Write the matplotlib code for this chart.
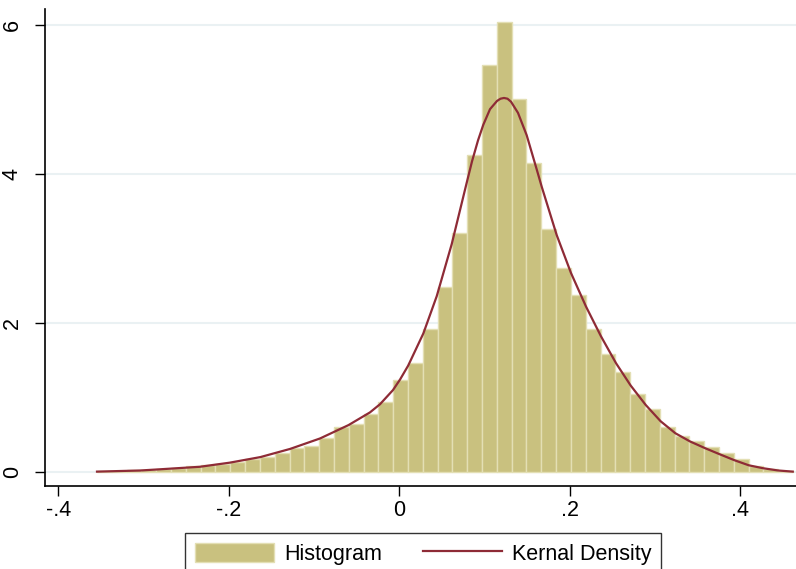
import numpy as np
import matplotlib
matplotlib.use("Agg")
from matplotlib import pyplot as plt
from matplotlib.patches import Patch
from matplotlib.lines import Line2D

# histogram: 47 equal bins from the data min to the data max
bin_start = -0.3546
bin_stop = 0.4618
hist_heights = [0.02, 0.02, 0.03, 0.03, 0.04, 0.05, 0.08, 0.10, 0.11, 0.13,
                0.17, 0.20, 0.25, 0.32, 0.35, 0.46, 0.61, 0.65, 0.78, 0.94,
                1.24, 1.46, 1.92, 2.48, 3.21, 4.25, 5.46, 6.04, 5.01, 4.15,
                3.26, 2.74, 2.38, 1.92, 1.58, 1.34, 1.05, 0.85, 0.60, 0.48,
                0.42, 0.34, 0.25, 0.17, 0.08, 0.04, 0.02]

# kernel density curve
kd_x = [-0.3546, -0.304, -0.281, -0.234, -0.199, -0.163, -0.128, -0.093,
        -0.0595, -0.0344, -0.0226, -0.0074, 0.0008, 0.0105, 0.0282, 0.0439,
        0.0615, 0.079, 0.0853, 0.0923, 0.0985, 0.1064, 0.1146, 0.1187,
        0.1228, 0.1269, 0.131, 0.1392, 0.1494, 0.1612, 0.167, 0.1846,
        0.2014, 0.219, 0.2366, 0.2542, 0.2714, 0.289, 0.3066, 0.3238,
        0.341, 0.3586, 0.3754, 0.3926, 0.4099, 0.427, 0.4446, 0.4615]
kd_y = [0.005, 0.02, 0.036, 0.07, 0.125, 0.2, 0.31, 0.45,
        0.63, 0.80, 0.91, 1.10, 1.24, 1.43, 1.86, 2.36,
        3.06, 3.88, 4.17, 4.45, 4.66, 4.87, 4.98, 5.01,
        5.02, 5.01, 4.97, 4.82, 4.52, 4.06, 3.83, 3.18,
        2.67, 2.22, 1.82, 1.46, 1.16, 0.90, 0.68, 0.52,
        0.41, 0.32, 0.24, 0.16, 0.09, 0.05, 0.02, 0.005]

x_ticks = [-0.4, -0.2, 0, 0.2, 0.4]
x_labels = ["-.4", "-.2", "0", ".2", ".4"]
y_ticks = [0, 2, 4, 6]

plt.rcParams['font.family'] = ['Liberation Sans', 'DejaVu Sans']

fig = plt.figure(figsize=(7.96, 5.69), dpi=100)
ax = fig.add_axes([45 / 796, 1 - 486 / 569, 751 / 796, 476.7 / 569])

edges = np.linspace(bin_start, bin_stop, len(hist_heights) + 1)
bar_color = '#c9c17f'
line_color = '#8e2b36'
ax.bar(edges[:-1], hist_heights, width=np.diff(edges), align='edge',
       color=bar_color, edgecolor='#e3dfb4', linewidth=1.0, zorder=2)
ax.plot(kd_x, kd_y, color=line_color, lw=1.6, zorder=3,
        solid_joinstyle='round')

for yv in y_ticks:
    ax.axhline(yv, color='#eaf1f3', lw=1.5, zorder=1)

ax.set_xlim(-0.4156, 0.4653)
ax.set_ylim(-0.188, 6.21)
ax.set_xticks(x_ticks)
ax.set_xticklabels(x_labels)
ax.set_yticks(y_ticks)
ax.set_yticklabels([str(v) for v in y_ticks], rotation=90, va='center')
ax.tick_params(axis='both', length=7, width=1, labelsize=15.5, color='black')
ax.tick_params(axis='x', pad=3)
ax.tick_params(axis='y', pad=9)
for s in ['top', 'right']:
    ax.spines[s].set_visible(False)
for s in ['left', 'bottom']:
    ax.spines[s].set_linewidth(1.2)

handles = [Patch(facecolor=bar_color, edgecolor='#e3dfb4', label='Histogram'),
           Line2D([], [], color=line_color, lw=1.6, label='Kernal Density')]
leg = fig.legend(handles=handles, loc='upper left', ncol=2,
                 bbox_to_anchor=(185 / 796, 1 - 533 / 569), borderaxespad=0,
                 fontsize=15.5, frameon=True, fancybox=False, edgecolor='black',
                 handlelength=3.7, handleheight=1.0, handletextpad=0.45,
                 columnspacing=1.9, borderpad=0.45)
leg.get_frame().set_linewidth(1.0)

fig.savefig('out.png', dpi=100)
